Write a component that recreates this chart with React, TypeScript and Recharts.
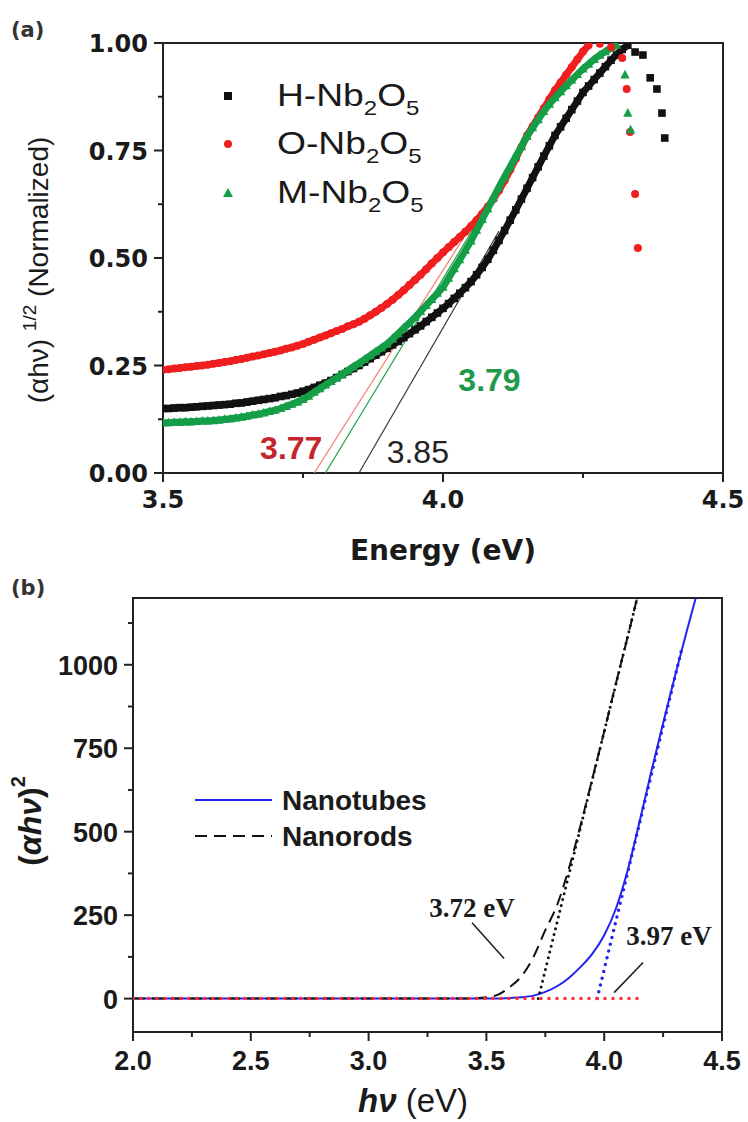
import React from 'react';
import { ComposedChart, Scatter, Line, XAxis, YAxis, ReferenceArea, ReferenceDot, Legend } from 'recharts';

const SANS = '"Liberation Sans", Arial, sans-serif';
const DEJAVU = '"DejaVu Sans", sans-serif';
const SERIF = '"Liberation Serif", "Times New Roman", serif';
const INK = '#1a1a1a';
const AXIS = '#222';

// ---- panel (a): (αhν)^1/2 vs energy, normalized ----
const energyA = [
  3.5, 3.51, 3.52, 3.53, 3.54, 3.55, 3.56, 3.57, 3.58, 3.59,
  3.6, 3.61, 3.62, 3.63, 3.64, 3.65, 3.66, 3.67, 3.68, 3.69,
  3.7, 3.71, 3.72, 3.73, 3.74, 3.75, 3.76, 3.77, 3.78, 3.79,
  3.8, 3.81, 3.82, 3.83, 3.84, 3.85, 3.86, 3.87, 3.88, 3.89,
  3.9, 3.91, 3.92, 3.93, 3.94, 3.95, 3.96, 3.97, 3.98, 3.99,
  4.0, 4.01, 4.02, 4.03, 4.04, 4.05, 4.06, 4.07, 4.08, 4.09,
  4.1, 4.11, 4.12, 4.13, 4.14, 4.15, 4.16, 4.17, 4.18, 4.19,
  4.2, 4.21, 4.22, 4.23, 4.24, 4.25, 4.26, 4.27, 4.28, 4.29,
  4.3, 4.31, 4.32, 4.33,
];

const hValues = [
  0.150, 0.150, 0.151, 0.152, 0.152, 0.153, 0.154, 0.155, 0.156, 0.157,
  0.158, 0.159, 0.160, 0.162, 0.163, 0.165, 0.167, 0.169, 0.171, 0.173,
  0.175, 0.178, 0.180, 0.183, 0.186, 0.190, 0.194, 0.199, 0.204, 0.209,
  0.215, 0.222, 0.229, 0.236, 0.243, 0.250, 0.258, 0.266, 0.274, 0.282,
  0.290, 0.298, 0.306, 0.315, 0.324, 0.333, 0.342, 0.352, 0.362, 0.372,
  0.383, 0.394, 0.406, 0.418, 0.431, 0.445, 0.461, 0.478, 0.497, 0.518,
  0.541, 0.564, 0.588, 0.612, 0.637, 0.662, 0.687, 0.712, 0.737, 0.761,
  0.785, 0.805, 0.825, 0.845, 0.865, 0.885, 0.900, 0.915, 0.930, 0.945,
  0.960, 0.973, 0.985, 0.995,
];
const oValues = [
  0.240, 0.241, 0.243, 0.244, 0.246, 0.247, 0.249, 0.250, 0.252, 0.254,
  0.256, 0.258, 0.260, 0.263, 0.265, 0.268, 0.271, 0.273, 0.276, 0.279,
  0.282, 0.285, 0.289, 0.292, 0.296, 0.300, 0.305, 0.310, 0.315, 0.320,
  0.325, 0.330, 0.335, 0.341, 0.346, 0.352, 0.359, 0.367, 0.375, 0.384,
  0.393, 0.403, 0.414, 0.425, 0.437, 0.449, 0.461, 0.474, 0.487, 0.500,
  0.513, 0.525, 0.537, 0.549, 0.561, 0.574, 0.588, 0.603, 0.619, 0.637,
  0.657, 0.680, 0.705, 0.731, 0.758, 0.785, 0.806, 0.827, 0.848, 0.869,
  0.890, 0.908, 0.926, 0.944, 0.962, 0.980, 0.995,
];
const mValues = [
  0.117, 0.117, 0.118, 0.118, 0.119, 0.119, 0.120, 0.121, 0.121, 0.122,
  0.123, 0.125, 0.126, 0.128, 0.130, 0.132, 0.135, 0.137, 0.140, 0.143,
  0.146, 0.150, 0.155, 0.160, 0.165, 0.171, 0.179, 0.188, 0.196, 0.205,
  0.213, 0.221, 0.230, 0.238, 0.247, 0.255, 0.264, 0.273, 0.282, 0.291,
  0.300, 0.312, 0.324, 0.337, 0.349, 0.362, 0.376, 0.390, 0.404, 0.418,
  0.432, 0.453, 0.475, 0.496, 0.518, 0.540, 0.565, 0.590, 0.615, 0.640,
  0.665, 0.689, 0.712, 0.736, 0.759, 0.783, 0.803, 0.822, 0.841, 0.858,
  0.873, 0.887, 0.901, 0.914, 0.927, 0.940, 0.951, 0.962, 0.972, 0.980,
  0.988, 0.995,
];

// points past the absorption maximum
const hTailE = [4.343, 4.357, 4.37, 4.382, 4.391, 4.396];
const hTailV = [0.979, 0.972, 0.919, 0.893, 0.837, 0.779];
const oTailE = [4.28, 4.3, 4.32, 4.328, 4.334, 4.343, 4.348];
const oTailV = [0.998, 0.99, 0.965, 0.893, 0.793, 0.649, 0.523];
const mTailE = [4.325, 4.33, 4.335];
const mTailV = [0.926, 0.837, 0.798];

// linear fits: x-intercept (band gap) and upper end point
const onsetA = [3.85, 3.77, 3.79]; // H, O, M
const fitEndA = [[4.1, 0.5625], [4.05, 0.574], [4.1, 0.667]];

const ticksXA = [3.5, 3.75, 4.0, 4.25, 4.5];
const majorXA = [3.5, 4.0, 4.5];
const ticksYA = [0, 0.125, 0.25, 0.375, 0.5, 0.625, 0.75, 0.875, 1.0];
const majorYA = [0, 0.25, 0.5, 0.75, 1.0];

// ---- panel (b): (αhν)^2 vs hν ----
const tubeE = [2.0, 2.5, 3.0, 3.5, 3.55, 3.6, 3.65, 3.7, 3.75, 3.8, 3.85, 3.9, 3.95, 4.0, 4.05, 4.1, 4.15, 4.2, 4.25, 4.3, 4.35, 4.4];
const tubeV = [0, 0, 0, 0, 0.5, 2, 4, 9, 20, 37, 62, 95, 135, 190, 270, 385, 530, 680, 825, 965, 1100, 1230];
const rodE = [2.0, 2.5, 3.0, 3.4, 3.45, 3.5, 3.55, 3.6, 3.65, 3.7, 3.75, 3.8, 3.85, 3.9, 3.95, 4.0, 4.05, 4.1, 4.15];
const rodV = [0, 0, 0, 0, 1, 4, 12, 35, 68, 125, 205, 280, 390, 520, 660, 800, 945, 1085, 1230];

const onsetB = [3.72, 3.97]; // nanorods, nanotubes
const fitEndB = [[4.14, 1200], [4.33, 1050]];
const baselineEndB = 4.16;

const ticksXB = [2.0, 2.25, 2.5, 2.75, 3.0, 3.25, 3.5, 3.75, 4.0, 4.25, 4.5];
const majorXB = [2.0, 2.5, 3.0, 3.5, 4.0, 4.5];
const ticksYB = [0, 125, 250, 375, 500, 625, 750, 875, 1000, 1125];
const majorYB = [0, 250, 500, 750, 1000];

const pts = (xs: number[], ys: number[]) => ys.map((y, i) => ({ x: xs[i], y }));
const near = (list: number[], v: number) => list.some((m) => Math.abs(m - v) < 1e-9);

type Font = { size: number; family: string; weight: number };

function xTick(majors: number[], digits: number, font: Font, dy: number) {
  return (p: any) => {
    const v = p.payload.value as number;
    const major = near(majors, v);
    return (
      <g>
        <line x1={p.x} x2={p.x} y1={p.y} y2={p.y + (major ? 9 : 5)} stroke={AXIS} strokeWidth={2} />
        {major && (
          <text x={p.x} y={p.y + dy} textAnchor="middle" dominantBaseline="central"
            fontSize={font.size} fontFamily={font.family} fontWeight={font.weight} fill={INK}>
            {v.toFixed(digits)}
          </text>
        )}
      </g>
    );
  };
}

function yTick(majors: number[], digits: number, font: Font, dx: number) {
  return (p: any) => {
    const v = p.payload.value as number;
    const major = near(majors, v);
    return (
      <g>
        <line x1={p.x} x2={p.x - (major ? 9 : 5)} y1={p.y} y2={p.y} stroke={AXIS} strokeWidth={2} />
        {major && (
          <text x={p.x - dx} y={p.y + 1} textAnchor="end" dominantBaseline="central"
            fontSize={font.size} fontFamily={font.family} fontWeight={font.weight} fill={INK}>
            {v.toFixed(digits)}
          </text>
        )}
      </g>
    );
  };
}

const Square = (p: any) => <rect x={p.cx - 3.8} y={p.cy - 3.8} width={7.6} height={7.6} fill="#111" />;
const Circle = (p: any) => <circle cx={p.cx} cy={p.cy} r={4} fill="#f01e1e" />;
const Tri = (p: any) => (
  <polygon points={`${p.cx},${p.cy - 5} ${p.cx - 4.6},${p.cy + 3.6} ${p.cx + 4.6},${p.cy + 3.6}`} fill="#159e48" />
);

const seriesA = [
  { name: 'H', color: '#111', shape: Square, values: hValues, tailE: hTailE, tailV: hTailV, fit: '#3a3a3a' },
  { name: 'O', color: '#f01e1e', shape: Circle, values: oValues, tailE: oTailE, tailV: oTailV, fit: '#f4806e' },
  { name: 'M', color: '#159e48', shape: Tri, values: mValues, tailE: mTailE, tailV: mTailV, fit: '#23a04c' },
];

function LegendA() {
  const rows = [
    { label: 'H', shape: <rect x={14} y={22} width={8} height={8} fill="#111" /> },
    { label: 'O', shape: <circle cx={18} cy={74} r={4} fill="#f01e1e" /> },
    { label: 'M', shape: <polygon points="18,118 13,127 23,127" fill="#159e48" /> },
  ];
  const baselines = [36, 84, 133];
  return (
    <svg width={240} height={150} style={{ display: 'block' }}>
      {rows.map((r, i) => (
        <g key={r.label}>
          {r.shape}
          <g transform={`translate(67, ${baselines[i]}) scale(1.2, 1)`}>
            <text x={0} y={0} fontSize={31} fontFamily={SANS} fill={INK}>
              {r.label}-Nb<tspan dy={9} fontSize={20}>2</tspan><tspan dy={-9}>O</tspan><tspan dy={9} fontSize={20}>5</tspan>
            </text>
          </g>
        </g>
      ))}
    </svg>
  );
}

function PanelA() {
  const tickFont: Font = { size: 24, family: DEJAVU, weight: 700 };
  const labelColors = ['#222', '#c4262c', '#1f9a4c'];
  const labelAt = [[3.955, 0.049], [3.729, 0.058], [4.083, 0.216]];
  return (
    <ComposedChart width={748} height={575} margin={{ top: 43, right: 25, left: 0, bottom: 0 }}>
      <XAxis type="number" dataKey="x" domain={[3.5, 4.5]} ticks={ticksXA} interval={0} allowDataOverflow
        height={102} tickSize={0} tickMargin={0} axisLine={false} tickLine={false}
        tick={xTick(majorXA, 1, tickFont, 27)}
        label={() => (
          <g>
            <text x={443} y={560} textAnchor="middle" fontSize={28} fontWeight={700} fontFamily={DEJAVU} fill={INK}>
              Energy (eV)
            </text>
            <text x={11} y={37} fontSize={21} fontWeight={700} fontFamily={DEJAVU} fill="#333">(a)</text>
          </g>
        )}
      />
      <YAxis type="number" dataKey="y" domain={[0, 1]} ticks={ticksYA} interval={0} allowDataOverflow
        width={163} tickSize={0} tickMargin={0} axisLine={false} tickLine={false}
        tick={yTick(majorYA, 2, tickFont, 15)}
        label={() => (
          <text x={38} y={270} transform="rotate(-90, 38, 270)" textAnchor="middle" dominantBaseline="central"
            fontSize={28} fontFamily={SANS} fill={INK}>
            (αhν)  <tspan dy={-9} fontSize={19}>1/2</tspan><tspan dy={9}> (Normalized)</tspan>
          </text>
        )}
      />
      {seriesA.map((s) => (
        <Scatter key={s.name} data={pts(energyA, s.values)} shape={s.shape} fill={s.color}
          line={{ stroke: s.color, strokeWidth: 7 }} lineType="joint" isAnimationActive={false} />
      ))}
      {seriesA.map((s) => (
        <Scatter key={`${s.name}-tail`} data={pts(s.tailE, s.tailV)} shape={s.shape} fill={s.color} isAnimationActive={false} />
      ))}
      {seriesA.map((s, i) => (
        <Line key={`${s.name}-fit`} data={[{ x: onsetA[i], y: 0 }, { x: fitEndA[i][0], y: fitEndA[i][1] }]}
          dataKey="y" type="linear" stroke={s.fit} strokeWidth={1.2} dot={false} activeDot={false} isAnimationActive={false} />
      ))}
      {onsetA.map((o, i) => (
        <ReferenceDot key={`lbl-${i}`} x={labelAt[i][0]} y={labelAt[i][1]} r={1} fill="none" stroke="none"
          label={{ value: o.toFixed(2), position: 'center', fill: labelColors[i], fontSize: 32, fontFamily: SANS, fontWeight: i === 0 ? 400 : 700 }} />
      ))}
      <ReferenceArea x1={3.5} x2={4.5} y1={0} y2={1} fill="none" stroke={AXIS} strokeWidth={2} ifOverflow="visible" />
      <Legend layout="vertical" align="center" verticalAlign="middle"
        wrapperStyle={{ left: 210, top: 70, width: 240, height: 150 }} content={() => <LegendA />} />
    </ComposedChart>
  );
}

function LegendB() {
  return (
    <svg width={260} height={80} style={{ display: 'block' }}>
      <line x1={10} x2={87} y1={20} y2={20} stroke="#2323f0" strokeWidth={2} />
      <line x1={10} x2={87} y1={56} y2={56} stroke="#111" strokeWidth={2} strokeDasharray="12 7" />
      <text x={97} y={30} fontSize={28} fontWeight={700} fontFamily={SANS} fill={INK}>Nanotubes</text>
      <text x={97} y={66} fontSize={28} fontWeight={700} fontFamily={SANS} fill={INK}>Nanorods</text>
    </svg>
  );
}

function PanelB() {
  const tickFont: Font = { size: 27, family: SANS, weight: 700 };
  const annotAt = [[3.439, 272], [4.275, 189]];
  const pointers = [
    [[3.439, 227], [3.575, 120]],
    [[4.165, 108], [4.042, 18]],
  ];
  return (
    <ComposedChart width={748} height={547} margin={{ top: 23, right: 26, left: 0, bottom: 0 }}>
      <XAxis type="number" dataKey="x" domain={[2, 4.5]} ticks={ticksXB} interval={0} allowDataOverflow
        height={90} tickSize={0} tickMargin={0} axisLine={false} tickLine={false}
        tick={xTick(majorXB, 1, tickFont, 29)}
        label={() => (
          <g>
            <text x={413} y={537} textAnchor="middle" fontSize={33} fontFamily={SANS} fill={INK}>
              <tspan fontWeight={700} fontStyle="italic">hν</tspan> (eV)
            </text>
            <text x={11} y={20} fontSize={21} fontWeight={700} fontFamily={DEJAVU} fill="#333">(b)</text>
          </g>
        )}
      />
      <YAxis type="number" dataKey="y" domain={[-100, 1200]} ticks={ticksYB} interval={0} allowDataOverflow
        width={133} tickSize={0} tickMargin={0} axisLine={false} tickLine={false}
        tick={yTick(majorYB, 0, tickFont, 15)}
        label={() => (
          <text x={30} y={246} transform="rotate(-90, 30, 246)" textAnchor="middle" dominantBaseline="central"
            fontSize={32} fontWeight={700} fontFamily={SANS} fill={INK}>
            (<tspan fontStyle="italic">αhν</tspan>)<tspan dy={-12} fontSize={20}>2</tspan>
          </text>
        )}
      />
      <Line data={pts(tubeE, tubeV)} dataKey="y" type="monotone" stroke="#2323f0" strokeWidth={2}
        dot={false} activeDot={false} isAnimationActive={false} />
      <Line data={pts(rodE, rodV)} dataKey="y" type="monotone" stroke="#111" strokeWidth={2} strokeDasharray="12 7"
        dot={false} activeDot={false} isAnimationActive={false} />
      <Line data={[{ x: onsetB[0], y: 0 }, { x: fitEndB[0][0], y: fitEndB[0][1] }]} dataKey="y" type="linear"
        stroke="#111" strokeWidth={3} strokeDasharray="0 6" strokeLinecap="round" dot={false} activeDot={false} isAnimationActive={false} />
      <Line data={[{ x: onsetB[1], y: 0 }, { x: fitEndB[1][0], y: fitEndB[1][1] }]} dataKey="y" type="linear"
        stroke="#2323f0" strokeWidth={3.5} strokeDasharray="0 7" strokeLinecap="round" dot={false} activeDot={false} isAnimationActive={false} />
      <Line data={[{ x: 2.0, y: 0 }, { x: baselineEndB, y: 0 }]} dataKey="y" type="linear"
        stroke="#ff2a2a" strokeWidth={3.5} strokeDasharray="0 8" strokeLinecap="round" dot={false} activeDot={false} isAnimationActive={false} />
      {pointers.map((seg, i) => (
        <Line key={`ptr-${i}`} data={seg.map(([x, y]) => ({ x, y }))} dataKey="y" type="linear" stroke="#222"
          strokeWidth={1.6} dot={false} activeDot={false} isAnimationActive={false} />
      ))}
      {onsetB.map((o, i) => (
        <ReferenceDot key={`eg-${i}`} x={annotAt[i][0]} y={annotAt[i][1]} r={1} fill="none" stroke="none"
          label={{ value: `${o.toFixed(2)} eV`, position: 'center', fill: INK, fontSize: 27, fontFamily: SERIF, fontWeight: 700 }} />
      ))}
      <ReferenceArea x1={2} x2={4.5} y1={-100} y2={1200} fill="none" stroke={AXIS} strokeWidth={2} ifOverflow="visible" />
      <Legend layout="vertical" align="center" verticalAlign="middle"
        wrapperStyle={{ left: 185, top: 205, width: 260, height: 80 }} content={() => <LegendB />} />
    </ComposedChart>
  );
}

export default function App() {
  return (
    <div style={{ position: 'absolute', left: 0, top: 0, width: 748, height: 1122, background: '#fff' }}>
      <div style={{ position: 'absolute', left: 0, top: 0 }}>
        <PanelA />
      </div>
      <div style={{ position: 'absolute', left: 0, top: 575 }}>
        <PanelB />
      </div>
    </div>
  );
}
